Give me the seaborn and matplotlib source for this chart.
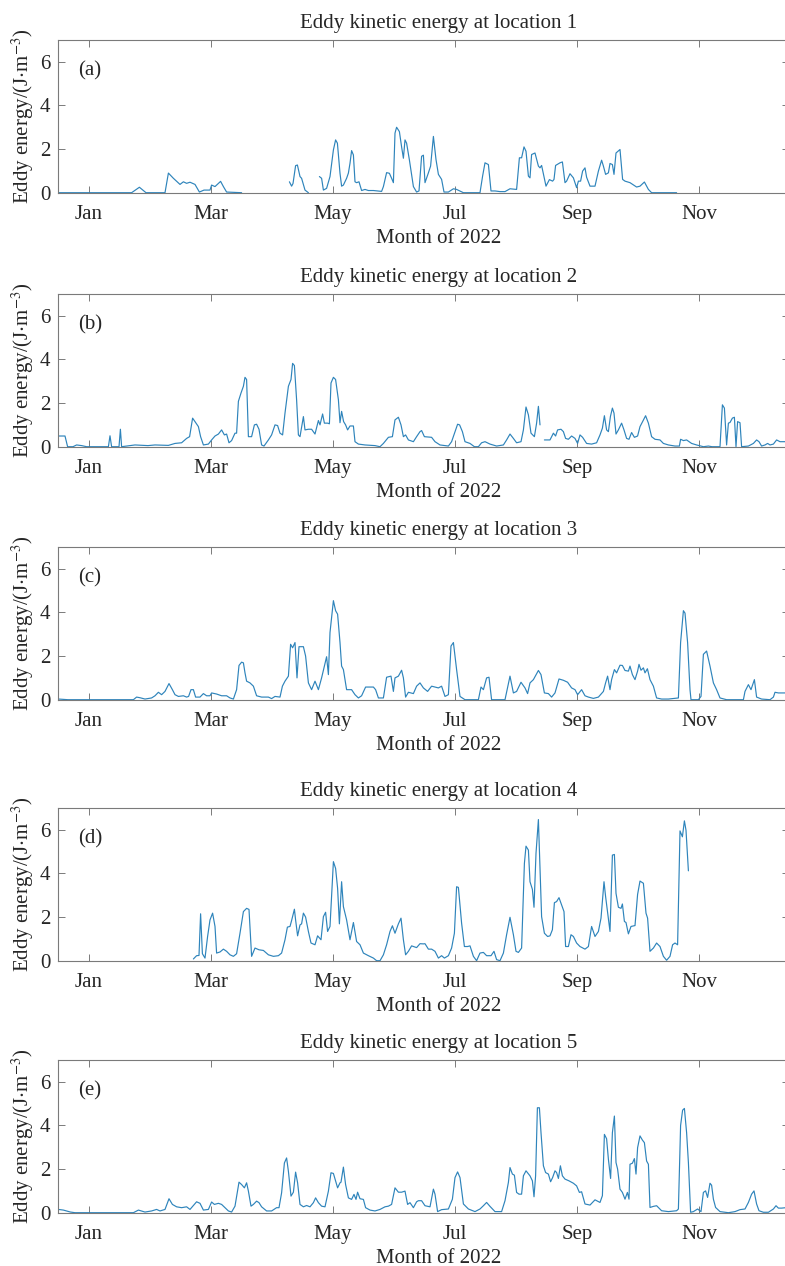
import numpy as np
import pandas as pd
import matplotlib
matplotlib.use("Agg")
import matplotlib.pyplot as plt
import seaborn as sns

N = np.nan

# ---------------- data (day of year, eddy kinetic energy J/m^3) ----------------
loc1_day = [0, 36.8, 40.7, 44, 53.5, 55.2, 57.7, 61, 62.7, 64.3, 66, 68.5, 70.7, 73, 76, 76.8, 78.5, 81.3, 82.7, 84.3, 91.8, 100,
            115.7, 116.8, 117.5, 118.8, 119.7, 121, 121.8, 123.5, 125.2, 128,
            130.7, 131.8, 132.7, 134.3, 136, 137.7, 138.8, 139.7, 141, 141.8, 142.7, 144.3, 145.2, 146, 146.8, 147.7, 148.5, 149.3,
            150.5, 151.8, 153.5, 155.2, 157.7, 161.8, 162.7, 164.3, 165.7, 166.8, 167.7, 168.5, 169.3, 170.7, 171.8, 172.7, 173.5,
            174.3, 175.7, 177.7, 179.3, 180.5, 181.8, 182.7, 183.5, 185.2, 186.3, 187.7, 189, 190.2, 191.8, 193, 195.2, 197.7,
            199.3, 202.7, 211, 212.3, 213.5, 215.2, 216.5, 218.5, 221, 223.5, 226, 229.3, 230.7, 231.8, 233, 234, 235.2, 236,
            236.8, 238.5, 240.2, 241, 241.8, 244, 245.7, 247.3, 248, 248.8, 251, 252.2, 253.5, 254.3, 256, 257.7, 259.3, 260.2,
            261.3, 262.3, 263.5, 264.3, 266, 268.5, 270.2, 271.8, 272.7, 273.8, 275.2, 276, 277.2, 278, 279, 281, 282.3, 283.5,
            286, 289.3, 291, 293.2, 295.2, 296.8, 309.3]
loc1_val = [0, 0, 0.25, 0, 0, 0.9, 0.66, 0.38, 0.5, 0.43, 0.48, 0.38, 0.03, 0.12, 0.12, 0.35, 0.28, 0.52, 0.28, 0.03, 0, N,
            0.5, 0.3, 0.42, 1.24, 1.27, 0.74, 0.66, 0.12, 0, N,
            0.74, 0.66, 0.12, 0.2, 0.74, 1.96, 2.42, 2.27, 0.89, 0.3, 0.35, 0.66, 0.9, 1.35, 1.93, 1.73, 0.5, 0.46,
            0.5, 0.1, 0.15, 0.1, 0.1, 0.06, 0.28, 0.92, 0.89, 0.66, 0.46, 2.73, 3.0, 2.8, 2.1, 1.58, 2.42,
            2.27, 1.5, 0.28, 0.03, 0.08, 1.67, 1.72, 0.46, 0.91, 1.22, 2.58, 1.52, 0.84, 0.61, 0.03, 0.03, 0.18,
            0.15, 0, 0, 0.76, 1.37, 1.29, 0.08, 0.08, 0.05, 0.05, 0.18, 0.15, 1.6, 1.6, 2.1, 1.9, 0.76, 0.68,
            1.75, 1.82, 1.22, 1.14, 1.25, 0.3, 0.6, 0.53, 0.61, 1.25, 1.37, 1.41, 0.46, 0.53, 0.87, 0.68, 0.23, 0.53,
            0.53, 0.99, 1.14, 0.71, 0.3, 0.3, 0.99, 1.49, 1.22, 0.84, 0.91, 1.34, 1.29, 0.84, 1.82, 1.98, 0.61, 0.53,
            0.46, 0.26, 0.3, 0.49, 0.15, 0, 0]

loc2_day = [0.2, 3.5, 4.8, 7.5, 9.3, 11.8, 14.3, 25.2, 26, 26.8, 30.5, 31.2, 31.8, 38.5, 45, 48.5, 55.2, 58.5, 61.8, 64.3,
            65.8, 67.3, 68.5, 70.2, 71.3, 72.7, 75.2, 76.8, 78.5, 80.2, 81.8, 83.2, 84.3, 85.5, 86.8, 88.5, 89.3, 90.2, 91.5,
            92.7, 93.5, 94.3, 95.2, 96.8, 98.2, 99.3, 100.5, 101.8, 103, 105.2, 106.8, 108.5, 109.8, 111, 112.3, 113.5, 115.2,
            116.5, 117.3, 118.2, 119.3, 120.2, 121, 122.7, 123.5, 125.2, 126.8, 128.5, 130.2, 131, 132.3, 133.2, 134.8, 135.7,
            136.5, 137.7, 138.8, 140.2, 141, 141.8, 142.8, 143.8, 144.8, 146, 147.7, 148.5, 150.2, 153.5, 158.5, 161, 162.7,
            165.2, 167.2, 168.5, 170.2, 171.5, 172.7, 173.8, 175.2, 177.7, 179.3, 181, 181.8, 183.2, 186.8, 188.5, 191, 195.2,
            196.8, 198.5, 199.8, 200.8, 202.2, 203.5, 206, 208.2, 210.2, 211.8, 213.5, 216, 219.3, 222.7, 224.3, 226, 227.7,
            229.3, 231.5, 232.7, 234, 235.2, 236.5, 238.2, 239.3, 240.2, 241, 242,
            243.2, 246, 247.7, 248.8, 249.8, 251.5, 252.7, 253.8, 255.2, 256.8, 258.5, 259.8, 261, 262.3, 264.3, 266.8, 269.3,
            271, 272.2, 273.2, 274.3, 275.2, 276.2, 277.2, 278, 279, 280.2, 281.8, 283, 284.3, 285.5, 286.8, 288.2, 289.8, 291,
            292.3, 293.8, 295.2, 296.8, 298.5, 301, 302.7, 305.2, 308.5, 310.7, 311.3, 312.7, 314.3, 316.8, 319.3, 322.7, 325.2,
            327, 331, 332.2, 333.2, 334.3, 335.2, 336, 337.2, 338.2, 339, 339.8, 341, 341.8, 345.2, 347.7, 349.3, 350.5, 351.8,
            353.5, 354.8, 356, 357.7, 359.3, 361, 362.7, 365]
loc2_val = [0.49, 0.49, 0, 0, 0.08, 0.05, 0, 0, 0.5, 0, 0, 0.8, 0, 0.08, 0.05, 0.08, 0.06, 0.15, 0.18, 0.38,
            0.46, 1.31, 1.15, 0.92, 0.46, 0.08, 0.12, 0.31, 0.49, 0.58, 0.77, 0.54, 0.58, 0.18, 0.28, 0.62, 0.62, 2.08, 2.46,
            2.77, 3.18, 3.08, 0.46, 0.46, 1.0, 1.03, 0.8, 0.08, 0.03, 0.31, 0.54, 1.0, 0.97, 0.62, 0.54, 1.54, 2.77,
            3.08, 3.82, 3.72, 2.15, 0.54, 0.46, 1.38, 0.77, 0.8, 0.8, 0.58, 1.2, 1.0, 1.5, 1.08, 1.08, 1.05,
            2.92, 3.18, 3.08, 2.15, 1.1, 1.62, 1.15, 1.0, 0.77, 0.95, 0.95, 0.23, 0.12, 0.08, 0.05, 0, 0.15,
            0.43, 0.46, 1.23, 1.35, 1.0, 0.46, 0.54, 0.31, 0.23, 0.46, 0.69, 0.74, 0.46, 0.43, 0.23, 0.08, 0.03,
            0.23, 0.69, 1.03, 1.0, 0.69, 0.23, 0.15, 0, 0, 0.18, 0.23, 0.12, 0.03, 0.08, 0.31, 0.58, 0.38,
            0.18, 0.23, 0.77, 1.82, 1.46, 0.62, 0.46, 1.08, 1.85, 1.0, N,
            0.31, 0.31, 0.62, 0.49, 0.77, 0.8, 0.69, 0.38, 0.34, 0.49, 0.38, 0.15, 0.54, 0.43, 0.15, 0.12, 0.18,
            0.54, 0.85, 1.42, 0.77, 0.69, 1.38, 1.77, 1.54, 0.58, 0.77, 1.08, 0.77, 0.38, 0.34, 0.65, 0.43, 0.49, 0.92,
            1.15, 1.42, 1.08, 0.46, 0.34, 0.31, 0.15, 0.08, 0.03, 0.03, 0.34, 0.28, 0.31, 0.15, 0.08, 0, 0.03,
            0, 0, 1.92, 1.77, 0.08, 1.08, 1.11, 1.31, 1.35, 0, 1.15, 1.1, 0, 0.03, 0.15, 0.31, 0.23, 0.03,
            0.08, 0.15, 0.08, 0.12, 0.31, 0.23, 0.23, 0.23]

loc3_day = [0.2, 5, 37.7, 39.3, 41, 43.5, 46.8, 48.5, 50.2, 51.8, 53.5, 55.5, 57.2, 58.5, 60.2, 62.7, 64.3, 65.3, 66.5, 67.7,
            68.8, 71, 72.7, 74.3, 76, 76.8, 79.3, 81.8, 84.3, 86, 87.7, 89.3, 90.5, 91.8, 92.7, 93.5, 94.3, 96, 97.7, 99.3,
            101.8, 105.2, 106.8, 108.5, 111, 112.2, 113.5, 115.2, 116.3, 117.3, 118.5, 119.5, 120.5, 122.7, 123.8, 125.2, 126.8,
            128.5, 130.2, 131.8, 133.2, 134.3, 135.2, 136, 137.7, 138.8, 139.8, 141, 141.8, 142.7, 144.3, 146.8, 148.5, 150.2,
            151.8, 153.8, 156, 157.7, 158.8, 160.2, 162.7, 164.3, 166.5, 167.7, 168.5, 170.2, 171.8, 172.7, 173.8, 175.2, 177.7,
            179.3, 181, 182.7, 184.8, 186.8, 188.5, 190.2, 191.8, 193.5, 195.2, 196.5, 197.7, 199.3, 201, 203.5, 210.2, 211.5,
            212.7, 214.3, 215.5, 216.8, 223.5, 226, 227.7, 229.3, 231.5, 233.5, 234.8, 236, 237.7, 240.2, 241.5, 243.2, 245.2,
            246.8, 248.5, 250.5, 252.7, 254.8, 256.8, 258.5, 259.8, 261.8, 263.5, 265.2, 267.7, 270.2, 272.7, 273.8, 274.8, 276,
            276.8, 278.2, 279.3, 281, 282.2, 283.5, 285.2, 286, 287.2, 288.5, 289.8, 290.5, 291.5, 292.7, 293.5, 294.7, 296,
            297.7, 299.3, 301.8, 305.2, 310.2, 311.3, 312.7, 313.5, 314.8, 316, 316.5, 320.2, 321.5, 322.7, 324.3, 326, 327.7,
            329.3, 331, 334.3, 342.7, 343.5, 345.2, 346.5, 348.2, 349.3, 351.8, 356, 357.7, 358.5, 360.2, 362.7, 365]
loc3_val = [0.03, 0, 0, 0.12, 0.09, 0.03, 0.08, 0.18, 0.34, 0.23, 0.38, 0.74, 0.46, 0.23, 0.15, 0.18, 0.12, 0.15, 0.46, 0.46,
            0.12, 0.12, 0.28, 0.18, 0.18, 0.31, 0.26, 0.18, 0.18, 0.08, 0.03, 0.46, 1.57, 1.72, 1.69, 1.23, 0.85, 0.77, 0.62, 0.18,
            0.12, 0.12, 0.05, 0.15, 0.12, 0.62, 0.85, 1.08, 2.54, 2.38, 2.62, 1.0, 2.43, 2.43, 2.0, 0.77, 0.46,
            0.85, 0.46, 1.0, 1.54, 1.97, 1.15, 3.08, 4.54, 4.08, 3.92, 2.62, 1.54, 1.38, 0.46, 0.46, 0.23, 0.08,
            0.18, 0.58, 0.58, 0.58, 0.46, 0.08, 0.08, 1.03, 1.08, 0.38, 1.0, 1.08, 1.35, 1.0, 0.12, 0.34, 0.28,
            0.62, 0.77, 0.54, 0.38, 0.62, 0.58, 0.54, 0.62, 0.15, 0.23, 2.46, 2.62, 1.38, 0.15, 0, 0, 0.58,
            0.46, 1.0, 1.03, 0, 0, 1.08, 0.31, 0.38, 0.8, 0.54, 0.28, 0.77, 0.92, 1.34, 1.15, 0.31, 0.28,
            0.12, 0.31, 0.95, 0.89, 0.8, 0.54, 0.46, 0.23, 0.46, 0.18, 0.12, 0.06, 0.12, 0.38, 0.77, 1.08, 0.46,
            0.92, 1.38, 1.23, 1.58, 1.57, 1.34, 1.31, 1.54, 1.15, 0.92, 1.31, 1.62, 1.35, 1.46, 1.23, 1.42, 0.92,
            0.62, 0.08, 0.03, 0.03, 0.08, 2.62, 4.08, 3.97, 2.62, 0.46, 0, 0, 0.15, 2.08, 2.23, 1.54, 0.77,
            0.46, 0.08, 0, 0, 0.38, 0.69, 0.46, 0.92, 0.12, 0.03, 0, 0.12, 0.34, 0.31, 0.31, 0.31]

loc4_day = [67.7, 69.3, 70.5, 71.3, 72.2, 73.5, 74.8, 76, 77.3, 78.5, 79.3, 81, 82.7, 84.3, 86, 87.7, 89.3, 91, 92.7, 94.3,
            95.5, 96.8, 98.5, 100.5, 102.7, 105.2, 107.7, 110.2, 111.8, 113.5, 114.7, 116, 116.8, 118.2, 118.8, 119.8, 121,
            121.8, 122.7, 123.8, 125.2, 126.5, 128.5, 129.8, 131.5, 132.7, 133.8, 134.8, 136, 137.7, 138.8, 139.8, 140.7, 141.8,
            142.7, 144.3, 146, 147.7, 149.3, 151, 152.7, 155.2, 157.7, 159.3, 161, 162.7, 164.3, 166, 167.2, 168.5, 170.2,
            171.5, 172.7, 173.8, 175.2, 176.8, 179.3, 181, 182.7, 183.5, 185.2, 186.8, 188.5, 190.2, 191.8, 193.2, 195.2, 196.8,
            198.2, 199.3, 200.2, 201.8, 203.2, 204.8, 206, 207.7, 209.3, 211, 212.7, 214.3, 216.5, 218, 219.3, 221, 222.7,
            224.3, 226, 227.7, 229, 230.2, 231.8, 233.2, 234, 235.2, 236, 237.2, 238, 239, 240.2, 241, 241.8, 243.2, 244.8,
            246, 247.2, 248.2, 249.3, 250.5, 251.8, 253, 253.8, 255.2, 256.5, 257.7, 259.3, 261, 263.5, 265.2, 266.8, 268.5,
            270.2, 271.5, 273, 273.8, 276, 277.2, 278.2, 279, 280.2, 281.5, 282.2, 283.2, 284, 285.2, 286.5, 288.5, 289.8,
            291, 292.7, 294, 294.8, 296, 297.7, 299.3, 301, 302.7, 304.3, 306, 307.3, 308.5, 309.8, 311, 312.2, 313.2, 314,
            315.2]
loc4_val = [0.08, 0.23, 0.24, 2.15, 0.32, 0.12, 1.11, 1.87, 2.18, 1.57, 0.35, 0.4, 0.53, 0.43, 0.27, 0.2, 0.32, 1.26, 2.25, 2.4,
            2.35, 0.2, 0.58, 0.5, 0.47, 0.27, 0.2, 0.23, 0.35, 0.96, 1.54, 1.57, 1.84, 2.36, 1.87, 1.14, 1.64,
            1.69, 2.18, 2.0, 1.34, 0.81, 0.73, 1.14, 0.96, 2.02, 2.22, 1.34, 1.57, 4.54, 4.23, 3.32, 1.69, 3.62,
            2.48, 1.87, 0.96, 1.75, 0.88, 0.73, 0.35, 0.23, 0.12, 0, 0, 0.27, 0.73, 1.34, 1.6, 1.26, 1.69,
            1.95, 0.96, 0.27, 0.43, 0.68, 0.6, 0.78, 0.77, 0.78, 0.53, 0.53, 0.43, 0.12, 0.23, 0.12, 0.23, 0.58,
            1.26, 3.39, 3.36, 1.72, 0.65, 0.65, 0.68, 0.2, 0, 0.35, 0.38, 0.23, 0.23, 0.43, 0.05, 0, 0.35,
            1.19, 1.99, 1.19, 0.43, 0.38, 0.58, 4.46, 5.25, 5.07, 3.62, 3.27, 2.45, 4.92, 6.47, 4.3, 2.02, 1.26, 1.11,
            1.14, 1.42, 2.66, 2.71, 2.89, 2.56, 2.25, 0.65, 0.65, 1.19, 1.11, 0.81, 0.65, 0.53, 0.65, 1.57, 1.11,
            1.34, 1.95, 3.62, 2.94, 1.34, 4.84, 4.87, 3.09, 2.45, 2.4, 2.6, 1.8, 1.75, 1.23, 1.57, 1.61, 3.04,
            3.65, 3.55, 2.18, 1.95, 0.43, 0.58, 0.81, 0.65, 0.2, 0.02, 0.2, 0.73, 0.81, 0.73, 5.95, 5.68, 6.41, 5.98,
            4.12]

loc5_day = [0.2, 2.7, 6.2, 8.5, 37.7, 40.2, 43.5, 46.8, 49.3, 51, 53.5, 55.5, 57.2, 59.3, 61.8, 64.3, 66, 67.7, 69.3, 71,
            72.7, 75.2, 76.8, 78.2, 80.2, 81.8, 83.5, 85.2, 86.8, 88.5, 90.5, 91.8, 93.2, 94.3, 95.2, 96.5, 97.7, 99.3, 100.5,
            101.8, 104.3, 106.8, 109.3, 110.5, 111.8, 113.2, 114.3, 115.2, 116.5, 117.7, 118.8, 119.8, 121, 122.7, 124.3, 126,
            127.7, 128.8, 130.2, 131.8, 133.5, 135.2, 136.5, 137.7, 138.8, 139.8, 141, 141.5, 142.7, 143.8, 145.2, 146.8, 148,
            149, 149.8, 151, 152.7, 153.8, 156, 158.5, 161, 163.5, 165.2, 166.8, 168.5, 170.2, 171.8, 173.5, 174.8, 176, 177.7,
            179.3, 180.2, 181.8, 183.5, 186, 187.7, 188.5, 189.8, 191.8, 195.2, 197.2, 198.5, 199.8, 201, 202.7, 205.2, 208.5,
            211, 212.7, 214.3, 216, 218.5, 221.8, 223.5, 225.2, 226, 227.2, 228.2, 229.3, 230.5, 231.8, 232.7, 234, 236, 237.2,
            238, 238.8, 239.7, 240.7, 241.5, 242.7, 243.8, 245.2, 246.3, 247.3, 248.5, 249.3, 250.2, 251.2, 252.2, 253.5,
            255.5, 257.7, 259.3, 260.7, 261.8, 263.5, 266, 268.5, 271, 272.2, 273.2, 274.3, 275.2, 276.3, 277.2, 278.2, 279,
            279.8, 281, 282.2, 283.5, 284.7, 285.5, 286, 287.2, 288.2, 289, 289.8, 291, 292.2, 293.2, 294.3, 295.2, 296,
            297.7, 299.3, 301.8, 305.2, 309.3, 310.2, 311.3, 312.3, 313.2, 314.3, 315.2, 316.3, 317.7, 319.8, 321.5, 322.7,
            323.8, 324.8, 326, 326.8, 327.7, 328.8, 331, 335.2, 338.5, 341, 343.5, 345.2, 346.8, 348, 349.3, 350.5, 352.7,
            355.2, 357.7, 359, 360.2, 361.8, 365]
loc5_val = [0.15, 0.12, 0.03, 0, 0, 0.12, 0.03, 0.08, 0.15, 0.08, 0.15, 0.64, 0.38, 0.27, 0.23, 0.27, 0.15, 0.33, 0.5, 0.43,
            0.12, 0.15, 0.49, 0.38, 0.43, 0.38, 0.23, 0.08, 0.03, 0.3, 1.4, 1.29, 1.14, 1.37, 0.99, 0.3, 0.38, 0.53, 0.46,
            0.27, 0.08, 0.08, 0.23, 0.23, 0.91, 2.28, 2.51, 1.9, 0.76, 0.94, 1.86, 1.37, 0.38, 0.27, 0.33, 0.27,
            0.46, 0.68, 0.46, 0.3, 0.27, 0.99, 1.83, 1.8, 1.45, 1.14, 1.37, 1.4, 2.09, 1.29, 0.68, 0.61, 0.84,
            0.61, 0.94, 0.64, 0.61, 0.23, 0.12, 0.08, 0.15, 0.27, 0.3, 0.38, 1.14, 0.94, 0.94, 0.99, 0.38, 0.46, 0.23,
            0.5, 0.55, 0.55, 0.32, 0.27, 1.08, 0.85, 0.05, 0.14, 0.17, 0.62, 1.61, 1.87, 1.61, 0.4, 0.17, 0.05,
            0.17, 0.32, 0.47, 0.29, 0.05, 0.05, 0.55, 1.39, 2.07, 1.77, 1.72, 0.93, 0.85, 0.85, 1.69, 1.92, 1.69, 1.46,
            0.73, 1.69, 4.81, 4.81, 3.67, 2.15, 1.84, 1.77, 1.42, 1.61, 1.92, 1.84, 1.57, 2.15, 1.69, 1.54,
            1.46, 1.35, 1.23, 0.93, 0.96, 0.4, 0.35, 0.59, 0.47, 0.78, 3.59, 3.39, 2.45, 1.57, 3.67, 4.43, 2.3,
            2.0, 1.08, 0.93, 0.62, 0.93, 0.62, 2.22, 2.27, 2.48, 1.77, 2.98, 3.52, 3.33, 3.21, 2.37, 2.22, 0.24,
            0.29, 0.32, 0.09, 0.05, 0.09, 0.17, 4.0, 4.7, 4.78, 3.67, 2.3, 0.02, 0.05, 0.17, 0.05, 0.93,
            1.0, 0.7, 1.35, 1.26, 0.62, 0.24, 0.05, 0, 0.05, 0.14, 0.17, 0.47, 0.85, 1.0, 0.4, 0.09, 0.02,
            0.02, 0.17, 0.32, 0.21, 0.21, 0.24]

month_labels = ["Jan", "Mar", "May", "Jul", "Sep", "Nov"]
month_ticks = [15.5, 76.5, 137.5, 198.5, 259.5, 320.5]
panel_tags = ["(a)", "(b)", "(c)", "(d)", "(e)"]
series = [(loc1_day, loc1_val), (loc2_day, loc2_val), (loc3_day, loc3_val),
          (loc4_day, loc4_val), (loc5_day, loc5_val)]

# ---------------- style ----------------
sns.set_theme(style="ticks")
plt.rcParams["font.family"] = ["Liberation Serif", "DejaVu Serif"]
plt.rcParams["mathtext.fontset"] = "stix"
TXT = "#262626"
AXC = "#7a7a7a"
LINE = "#2e84bb"
FS = 15

fig = plt.figure(figsize=(7.85, 12.66), dpi=100)
H = 1266.0
W = 785.0
tops = [40, 294, 547, 808, 1060]
ax_h = 152.7
left_px = 58
right_px = 788.5
text_center = (439 - left_px) / (right_px - left_px)

for i, (days, vals) in enumerate(series):
    top = tops[i]
    rect = [left_px / W, 1 - (top + ax_h) / H, (right_px - left_px) / W, ax_h / H]
    ax = fig.add_axes(rect)
    v = np.array(vals, dtype=float)
    seg = np.cumsum(np.isnan(v))
    df = pd.DataFrame({"day": days, "val": v, "seg": seg}).dropna()
    sns.lineplot(data=df, x="day", y="val", units="seg", estimator=None, sort=False,
                 color=LINE, lw=0.85, ax=ax, legend=False)
    ax.set_xlim(0, (right_px - left_px) / 2.0)
    ax.set_ylim(0, 7)
    ax.set_yticks([0, 2, 4, 6])
    ax.set_xticks(month_ticks)
    ax.set_xticklabels(month_labels)
    ax.tick_params(direction="in", length=5, width=0.7, color=AXC, labelcolor=TXT,
                   labelsize=FS, top=True, right=True)
    ax.tick_params(axis="x", pad=8.5)
    ax.tick_params(axis="y", pad=5.5)
    for sp in ax.spines.values():
        sp.set_visible(True)
        sp.set_color(AXC)
        sp.set_linewidth(0.8)
    ax.set_xlabel("Month of 2022", fontsize=FS, color=TXT)
    ax.xaxis.set_label_coords(text_center, -0.235)
    ax.xaxis.label.set_va("top")
    ax.set_ylabel("Eddy energy/(J$\\cdot$m$^{-3}$)", fontsize=FS, color=TXT, labelpad=2.5)
    ax.set_title(f"Eddy kinetic energy at location {i + 1}", fontsize=FS, color=TXT, pad=8.5,
                 x=text_center)
    ax.text(0.027, 0.80, panel_tags[i], transform=ax.transAxes, ha="left", va="center",
            fontsize=FS, color=TXT)

fig.savefig("out.png", dpi=100)
